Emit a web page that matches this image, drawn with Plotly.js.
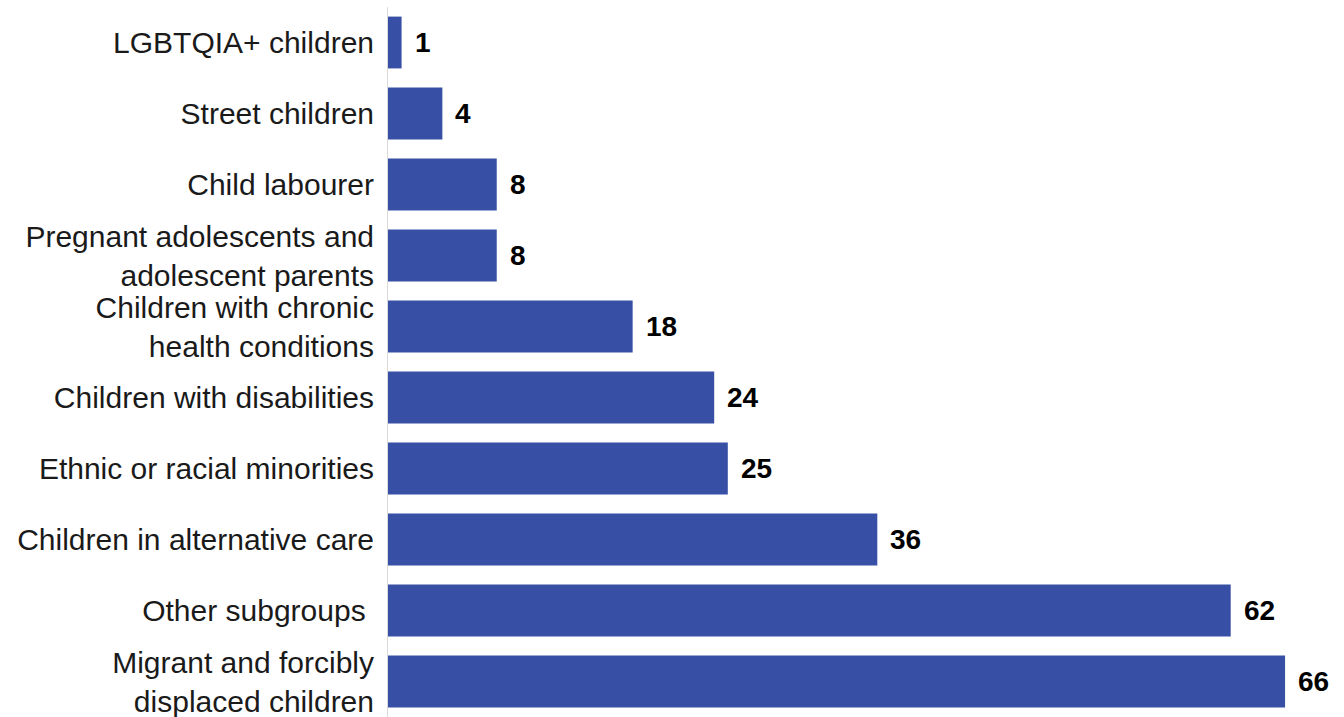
<!DOCTYPE html>
<html>
<head>
<meta charset="utf-8">
<script src="https://cdn.plot.ly/plotly-3.0.1.min.js"></script>
<style>html,body{margin:0;padding:0;background:#fff;}</style>
</head>
<body>
<div id="chart" style="width:1344px;height:717px;"></div>
<script>
const categories = [
  "LGBTQIA+ children",
  "Street children",
  "Child labourer",
  "Pregnant adolescents and<br>adolescent parents",
  "Children with chronic<br>health conditions",
  "Children with disabilities",
  "Ethnic or racial minorities",
  "Children in alternative care",
  "Other subgroups\u00a0",
  "Migrant and forcibly<br>displaced children"
];
const values = [1, 4, 8, 8, 18, 24, 25, 36, 62, 66];

const trace = {
  type: 'bar',
  orientation: 'h',
  x: values,
  y: categories,
  marker: {color: '#3750a5'},
  hoverinfo: 'x+y'
};

const annotations = values.map((v, i) => ({
  x: v, y: categories[i], xref: 'x', yref: 'y',
  text: '<b>' + v + '</b>',
  showarrow: false, xanchor: 'left', yanchor: 'middle',
  xshift: 11,
  font: {family: 'Liberation Sans, Arial, sans-serif', size: 28, color: '#000'}
}));

const layout = {
  width: 1344, height: 717,
  margin: {l: 388, r: 10, t: 7, b: 0, pad: 0},
  paper_bgcolor: '#fff', plot_bgcolor: '#fff',
  bargap: 0.27,
  showlegend: false,
  xaxis: {range: [0, 69.6], visible: false, showgrid: false, zeroline: false, fixedrange: true},
  yaxis: {
    autorange: 'reversed', type: 'category',
    showline: true, linecolor: '#d9d9d9', linewidth: 1,
    showgrid: false, zeroline: false, ticks: '',
    ticklabelstandoff: 7,
    tickfont: {family: 'Liberation Sans, Arial, sans-serif', size: 30, color: '#1a1a1a'},
    fixedrange: true
  },
  annotations: annotations
};

Plotly.newPlot('chart', [trace], layout, {displayModeBar: false, staticPlot: true});
</script>
</body>
</html>
